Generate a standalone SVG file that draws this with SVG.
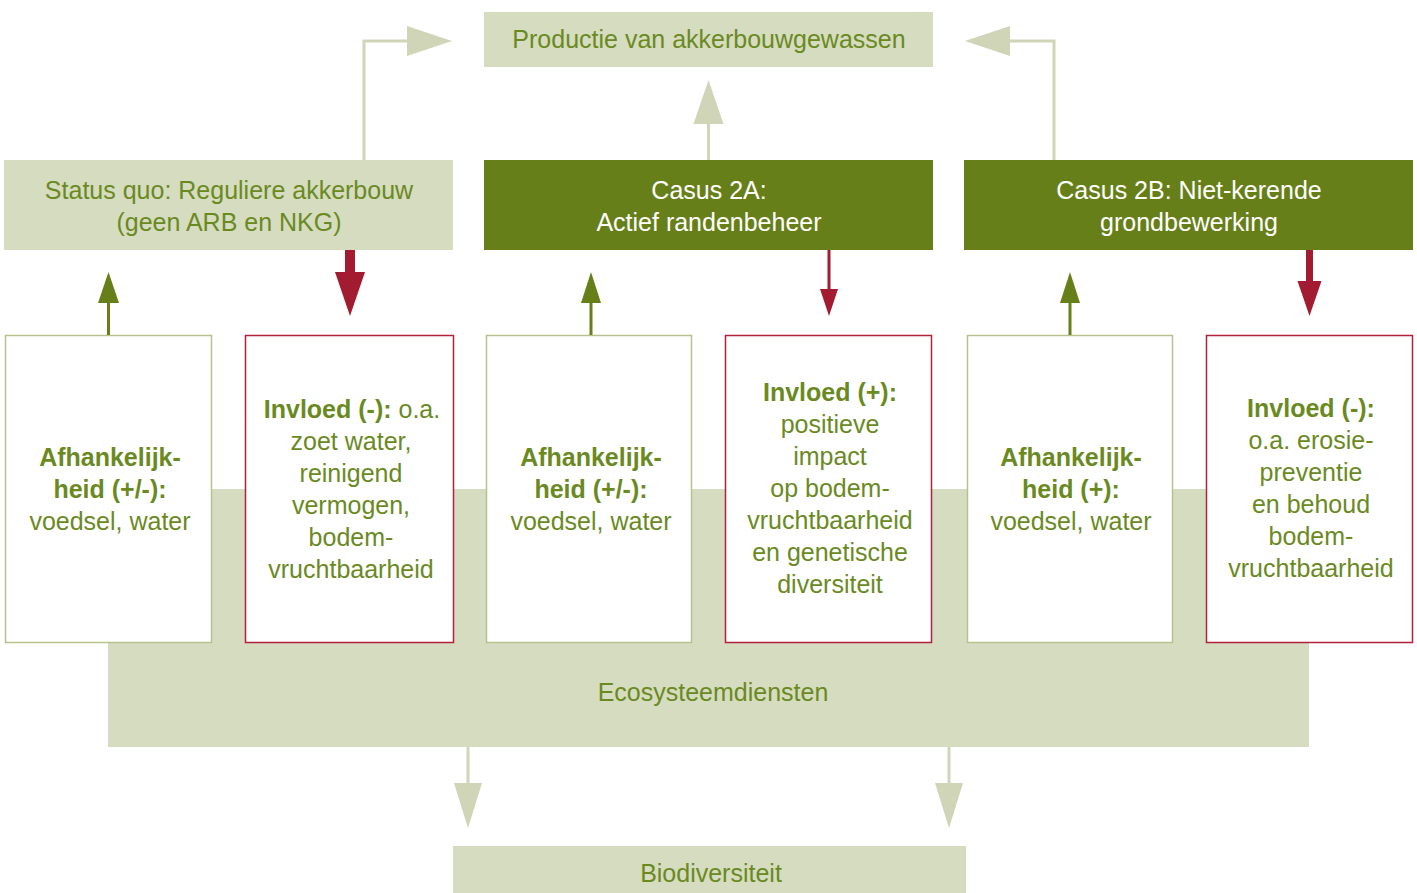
<svg xmlns="http://www.w3.org/2000/svg" width="1417" height="893" viewBox="0 0 1417 893">
<style>
  text { font-family: "Liberation Sans", Arial, sans-serif; font-size: 25px; text-anchor: middle; fill: #6a8a1f; }
  .w { fill: #ffffff; }
  .b { font-weight: bold; }
  .light { fill: #d6dcc0; }
  .dark { fill: #667f18; }
  .gbox { fill: #ffffff; stroke: #b6c28d; stroke-width: 1.5; }
  .rbox { fill: #ffffff; stroke: #b0213a; stroke-width: 1.5; }
  .lline { stroke: #cfd5b6; stroke-width: 3; fill: none; }
  .lhead { fill: #cfd5b6; }
  .ghead { fill: #667f18; }
  .gline { stroke: #667f18; stroke-width: 3; fill: none; }
  .rhead { fill: #a31b31; }
  .rline { stroke: #a31b31; fill: none; }
</style>
<rect width="1417" height="893" fill="#ffffff"/>

<g id="ecosysteemdiensten">
  <rect class="light" x="108" y="489" width="1201" height="258"/>
  <text x="713" y="701">Ecosysteemdiensten</text>
</g>

<g id="productie">
  <rect class="light" x="484" y="12" width="449" height="55"/>
  <text x="709" y="48">Productie van akkerbouwgewassen</text>
</g>

<g id="status-quo">
  <rect class="light" x="4" y="160" width="449" height="90"/>
  <text x="229" y="199">Status quo: Reguliere akkerbouw</text>
  <text x="229" y="231">(geen ARB en NKG)</text>
</g>

<g id="casus-2a">
  <rect class="dark" x="484" y="160" width="449" height="90"/>
  <text class="w" x="709" y="199">Casus 2A:</text>
  <text class="w" x="709" y="231">Actief randenbeheer</text>
</g>

<g id="casus-2b">
  <rect class="dark" x="964" y="160" width="449" height="90"/>
  <text class="w" x="1189" y="199">Casus 2B: Niet-kerende</text>
  <text class="w" x="1189" y="231">grondbewerking</text>
</g>

<g id="afh-1">
  <rect class="gbox" x="5.5" y="335.5" width="206" height="307"/>
  <text class="b" x="110" y="466">Afhankelijk-</text>
  <text class="b" x="110" y="498">heid (+/-):</text>
  <text x="110" y="530">voedsel, water</text>
</g>

<g id="invloed-1">
  <rect class="rbox" x="245.5" y="335.5" width="208" height="307"/>
  <text x="352" y="418"><tspan class="b">Invloed (-):</tspan> o.a.</text>
  <text x="351" y="450">zoet water,</text>
  <text x="351" y="482">reinigend</text>
  <text x="351" y="514">vermogen,</text>
  <text x="351" y="546">bodem-</text>
  <text x="351" y="578">vruchtbaarheid</text>
</g>

<g id="afh-2">
  <rect class="gbox" x="486.5" y="335.5" width="205" height="307"/>
  <text class="b" x="591" y="466">Afhankelijk-</text>
  <text class="b" x="591" y="498">heid (+/-):</text>
  <text x="591" y="530">voedsel, water</text>
</g>

<g id="invloed-2">
  <rect class="rbox" x="725.5" y="335.5" width="206" height="307"/>
  <text class="b" x="830" y="401">Invloed (+):</text>
  <text x="830" y="433">positieve</text>
  <text x="830" y="465">impact</text>
  <text x="830" y="497">op bodem-</text>
  <text x="830" y="529">vruchtbaarheid</text>
  <text x="830" y="561">en genetische</text>
  <text x="830" y="593">diversiteit</text>
</g>

<g id="afh-3">
  <rect class="gbox" x="967.5" y="335.5" width="205" height="307"/>
  <text class="b" x="1071" y="466">Afhankelijk-</text>
  <text class="b" x="1071" y="498">heid (+):</text>
  <text x="1071" y="530">voedsel, water</text>
</g>

<g id="invloed-3">
  <rect class="rbox" x="1206.5" y="335.5" width="206" height="307"/>
  <text class="b" x="1311" y="417">Invloed (-):</text>
  <text x="1311" y="449">o.a. erosie-</text>
  <text x="1311" y="481">preventie</text>
  <text x="1311" y="513">en behoud</text>
  <text x="1311" y="545">bodem-</text>
  <text x="1311" y="577">vruchtbaarheid</text>
</g>

<g id="biodiversiteit">
  <rect class="light" x="453" y="846" width="513" height="47"/>
  <text x="711" y="882">Biodiversiteit</text>
</g>

<g id="connectors">
  <!-- to productie -->
  <polyline class="lline" points="364,160 364,41 410,41"/>
  <polygon class="lhead" points="407,26 407,56 452,41"/>
  <line class="lline" x1="708.5" y1="160" x2="708.5" y2="122"/>
  <polygon class="lhead" points="693.5,124 723.5,124 708.5,80"/>
  <polyline class="lline" points="1054,160 1054,41 1008,41"/>
  <polygon class="lhead" points="1010,26 1010,56 965,41"/>

  <!-- afhankelijkheid up -->
  <line class="gline" x1="108.5" y1="335" x2="108.5" y2="301"/>
  <polygon class="ghead" points="98,303 119,303 108.5,272"/>
  <line class="gline" x1="591" y1="335" x2="591" y2="301"/>
  <polygon class="ghead" points="581,303 601,303 591,272"/>
  <line class="gline" x1="1070" y1="335" x2="1070" y2="301"/>
  <polygon class="ghead" points="1060,303 1080,303 1070,272"/>

  <!-- invloed down -->
  <line class="rline" x1="350" y1="250" x2="350" y2="274" stroke-width="10"/>
  <polygon class="rhead" points="335,272 365,272 350,316"/>
  <line class="rline" x1="829" y1="250" x2="829" y2="291" stroke-width="3"/>
  <polygon class="rhead" points="820,289 838,289 829,316"/>
  <line class="rline" x1="1309.5" y1="250" x2="1309.5" y2="283" stroke-width="7"/>
  <polygon class="rhead" points="1297.5,281 1321.5,281 1309.5,316"/>

  <!-- to biodiversiteit -->
  <line class="lline" x1="468" y1="747" x2="468" y2="785"/>
  <polygon class="lhead" points="454,783 482,783 468,828"/>
  <line class="lline" x1="949" y1="747" x2="949" y2="785"/>
  <polygon class="lhead" points="935,783 963,783 949,828"/>
</g>
</svg>
